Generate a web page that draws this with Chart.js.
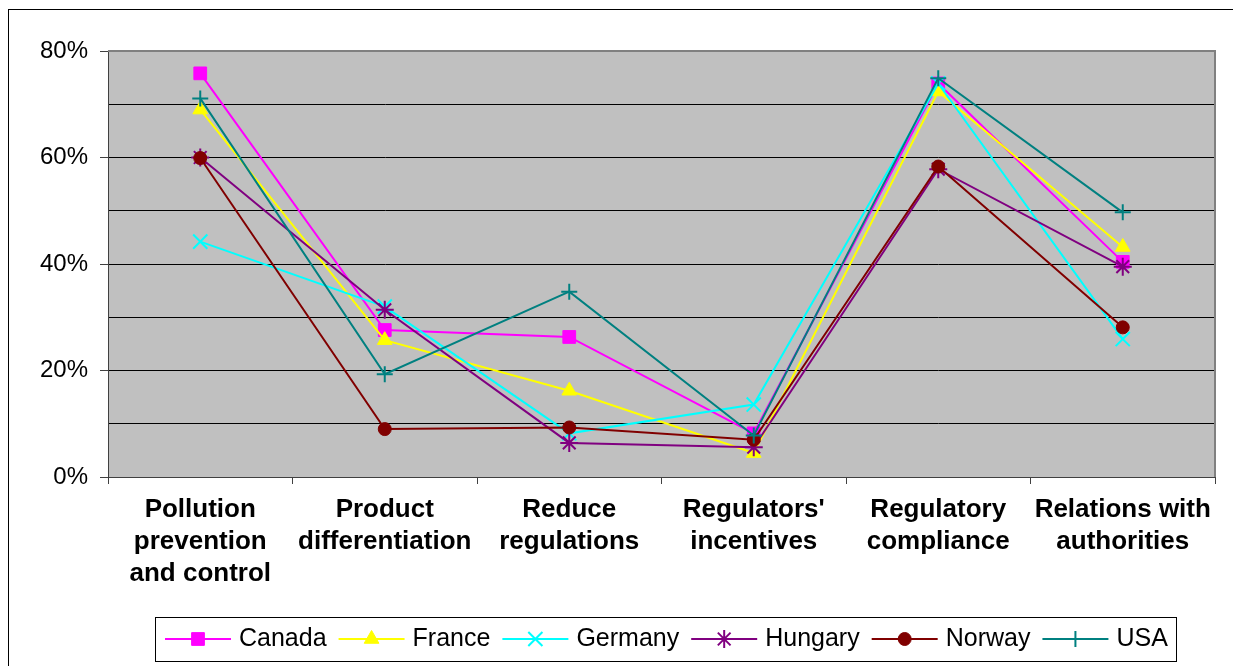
<!DOCTYPE html>
<html>
<head>
<meta charset="utf-8">
<script src="https://cdn.jsdelivr.net/npm/chart.js@4.4.1/dist/chart.umd.min.js"></script>
<style>
  html, body { margin: 0; padding: 0; background: #ffffff; }
  #wrap { width: 1233px; height: 666px; position: relative; }
</style>
</head>
<body>
<div id="wrap"><canvas id="c" width="1233" height="666"></canvas></div>
<script>
// Motives, share of facilities (%)
const categories = [
  ['Pollution', 'prevention', 'and control'],
  ['Product', 'differentiation'],
  ['Reduce', 'regulations'],
  ["Regulators'", 'incentives'],
  ['Regulatory', 'compliance'],
  ['Relations with', 'authorities']
];
const seriesNames = ['Canada', 'France', 'Germany', 'Hungary', 'Norway', 'USA'];
const canada  = [75.8, 27.6, 26.3, 8.2, 73.9, 40.4];
const france  = [69.0, 25.7, 16.2, 4.5, 72.4, 43.2];
const germany = [44.2, 32.0, 8.2, 13.6, 73.9, 25.9];
const hungary = [60.0, 31.4, 6.4, 5.6, 57.8, 39.5];
const norway  = [59.9, 9.0, 9.3, 7.0, 58.3, 28.1];
const usa     = [71.1, 19.3, 34.8, 7.8, 74.9, 49.7];
const yTickValues = [0, 20, 40, 60, 80];

const FONT = '"Liberation Sans", Arial, Helvetica, sans-serif';

const styles = [
  { color: '#FF00FF', point: 'rect',     r: 9,   bw: 1 },
  { color: '#FFFF00', point: 'triangle', r: 8.5, bw: 1 },
  { color: '#00FFFF', point: 'crossRot', r: 10,  bw: 2 },
  { color: '#800080', point: 'star',     r: 9,   bw: 2 },
  { color: '#800000', point: 'circle',   r: 6.5, bw: 1 },
  { color: '#008080', point: 'cross',    r: 8,   bw: 2 }
];
const seriesValues = [canada, france, germany, hungary, norway, usa];

const datasets = seriesNames.map((name, i) => ({
  label: name,
  data: seriesValues[i],
  borderColor: styles[i].color,
  backgroundColor: styles[i].color,
  borderWidth: 2,
  pointStyle: styles[i].point,
  pointRadius: styles[i].r,
  pointHoverRadius: styles[i].r,
  pointBorderWidth: styles[i].bw,
  pointBackgroundColor: styles[i].color,
  pointBorderColor: styles[i].color,
  tension: 0,
  fill: false,
  // later series are painted on top
  order: seriesNames.length - i
}));

// White page, outer frame and grey plot background
const framePlugin = {
  id: 'frame',
  beforeDraw(chart) {
    const { ctx, chartArea: a } = chart;
    ctx.save();
    ctx.fillStyle = '#ffffff';
    ctx.fillRect(0, 0, chart.width, chart.height);
    ctx.strokeStyle = '#000000';
    ctx.lineWidth = 1;
    ctx.strokeRect(8.5, 9.5, chart.width + 20, chart.height + 20);
    ctx.fillStyle = '#C0C0C0';
    ctx.fillRect(a.left, a.top, a.right - a.left, a.bottom - a.top);
    ctx.restore();
  },
  beforeDatasetsDraw(chart) {
    const { ctx, chartArea: a } = chart;
    ctx.save();
    ctx.strokeStyle = '#808080';
    ctx.lineWidth = 2;
    ctx.beginPath();
    ctx.moveTo(a.left, a.top);
    ctx.lineTo(a.right, a.top);
    ctx.lineTo(a.right, a.bottom);
    ctx.stroke();
    ctx.restore();
  }
};

// Boxed legend with line + marker samples
const legendPlugin = {
  id: 'boxLegend',
  afterDraw(chart) {
    const { ctx, chartArea: a } = chart;
    const sets = chart.data.datasets;
    ctx.save();
    ctx.font = '25px ' + FONT;
    const lineLen = 66, textGap = 8, itemGap = 12, padL = 10, padR = 8;
    let total = padL + padR;
    sets.forEach((d, i) => {
      total += lineLen + textGap + ctx.measureText(d.label).width;
      if (i < sets.length - 1) total += itemGap;
    });
    const boxLeft = Math.round(a.left + 47);
    const boxTop = 617, boxH = 44;
    const cy = boxTop + boxH / 2;
    ctx.fillStyle = '#ffffff';
    ctx.fillRect(boxLeft, boxTop, total, boxH);
    ctx.strokeStyle = '#000000';
    ctx.lineWidth = 1;
    ctx.strokeRect(boxLeft + 0.5, boxTop + 0.5, Math.round(total), boxH);
    let x = boxLeft + padL;
    sets.forEach((d) => {
      ctx.strokeStyle = d.borderColor;
      ctx.lineWidth = 2;
      ctx.beginPath();
      ctx.moveTo(x, cy);
      ctx.lineTo(x + lineLen, cy);
      ctx.stroke();
      ctx.fillStyle = d.pointBackgroundColor;
      ctx.strokeStyle = d.pointBorderColor;
      ctx.lineWidth = d.pointBorderWidth;
      Chart.helpers.drawPoint(ctx, {
        radius: d.pointRadius,
        pointStyle: d.pointStyle,
        rotation: 0,
        borderWidth: d.pointBorderWidth
      }, x + lineLen / 2, cy);
      ctx.fillStyle = '#000000';
      ctx.textAlign = 'left';
      ctx.textBaseline = 'middle';
      const tx = x + lineLen + textGap;
      ctx.fillText(d.label, tx, cy);
      x = tx + ctx.measureText(d.label).width + itemGap;
    });
    ctx.restore();
  }
};

new Chart(document.getElementById('c'), {
  type: 'line',
  data: { labels: categories, datasets },
  plugins: [framePlugin, legendPlugin],
  options: {
    responsive: false,
    animation: false,
    devicePixelRatio: 1,
    layout: { padding: { left: 0, top: 51, right: 18, bottom: 0 } },
    plugins: {
      legend: { display: false },
      tooltip: { enabled: false },
      title: { display: false }
    },
    scales: {
      x: {
        type: 'category',
        offset: true,
        grid: {
          offset: true,
          drawOnChartArea: false,
          drawTicks: true,
          tickLength: 7,
          color: '#404040',
          lineWidth: 1
        },
        border: { color: '#404040', width: 1 },
        ticks: {
          color: '#000000',
          font: { family: FONT, size: 26, weight: 'bold', lineHeight: 1.23 },
          maxRotation: 0,
          minRotation: 0,
          autoSkip: false,
          padding: 10
        },
        afterFit(scale) { scale.height = 189; }
      },
      y: {
        min: 0,
        max: 80,
        ticks: {
          stepSize: 10,
          color: '#000000',
          font: { family: FONT, size: 24 },
          padding: 12,
          callback: (v) => yTickValues.includes(v) ? v + '%' : ''
        },
        grid: {
          color: (c) => (c.tick && (c.tick.value === 0 || c.tick.value === 80)) ? 'rgba(0,0,0,0)' : '#000000',
          tickColor: (c) => (c.tick && yTickValues.includes(c.tick.value)) ? '#404040' : 'rgba(0,0,0,0)',
          tickLength: 8,
          lineWidth: 1
        },
        border: { color: '#404040', width: 1 },
        afterFit(scale) { scale.width = 108; }
      }
    }
  }
});
</script>
</body>
</html>
